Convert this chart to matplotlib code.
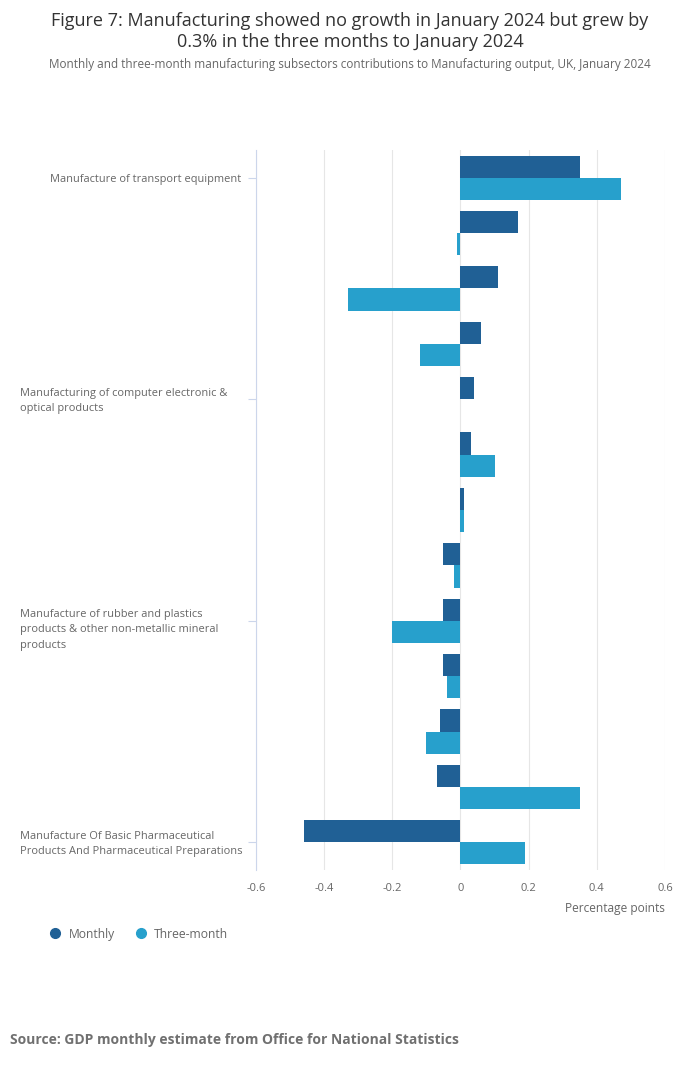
import numpy as np
import matplotlib.pyplot as plt
from matplotlib.lines import Line2D
from matplotlib.transforms import blended_transform_factory

plt.rcParams['font.family'] = ['Open Sans', 'DejaVu Sans']

# subsectors, top to bottom; only every 4th one is labelled in the source chart
categories = [
    'Manufacture of transport equipment', '', '', '',
    'Manufacturing of computer electronic &\noptical products', '', '', '',
    'Manufacture of rubber and plastics\nproducts & other non-metallic mineral\nproducts', '', '', '',
    'Manufacture Of Basic Pharmaceutical\nProducts And Pharmaceutical Preparations',
]
monthly = [0.35, 0.17, 0.11, 0.06, 0.04, 0.03, 0.01, -0.05, -0.05, -0.05, -0.06, -0.07, -0.46]
three_month = [0.47, -0.01, -0.33, -0.12, 0.0, 0.10, 0.01, -0.02, -0.20, -0.04, -0.10, 0.35, 0.19]
x_ticks = [-0.6, -0.4, -0.2, 0, 0.2, 0.4, 0.6]
x_tick_labels = ['-0.6', '-0.4', '-0.2', '0', '0.2', '0.4', '0.6']

dark_blue = '#206095'
light_blue = '#27a0cc'
grey_text = '#666666'

fig = plt.figure(figsize=(7, 10.67), dpi=100)
ax = fig.add_axes([0.3657, 0.1846, 0.5843, 0.6748])

y = np.arange(len(categories))
bar_h = 0.4
ax.barh(y - bar_h / 2, monthly, height=bar_h, color=dark_blue, label='Monthly', zorder=3)
ax.barh(y + bar_h / 2, three_month, height=bar_h, color=light_blue, label='Three-month', zorder=3)

ax.set_ylim(len(categories) - 0.5, -0.5)
ax.set_xlim(-0.6, 0.6)

# ticks only where a label is shown; labels drawn by hand so wrapped ones sit flush left
labelled = [i for i, c in enumerate(categories) if c]
ax.set_yticks(labelled)
ax.set_yticklabels([''] * len(labelled))
ax.tick_params(axis='y', length=6, width=0.8, color='#ccd6eb')
trans = blended_transform_factory(fig.transFigure, ax.transData)
for i in labelled:
    txt = categories[i]
    n_lines = txt.count('\n') + 1
    # three-line labels sit about half a line lower than their tick
    dy = 0.035 + (0.13 if n_lines > 2 else 0)
    if n_lines > 1:
        ax.text(20 / 700, i + dy, txt, transform=trans, ha='left', va='center',
                fontsize=7.9, color=grey_text, linespacing=1.55)
    else:
        ax.text(241 / 700, i + dy, txt, transform=trans, ha='right', va='center',
                fontsize=7.9, color=grey_text)

ax.set_xticks(x_ticks)
ax.set_xticklabels(x_tick_labels, fontsize=8, color=grey_text)
ax.tick_params(axis='x', length=0, pad=9)
ax.grid(axis='x', color='#e6e6e6', linewidth=0.8, zorder=0)

for side in ['top', 'right', 'bottom']:
    ax.spines[side].set_visible(False)
ax.spines['left'].set_color('#ccd6eb')
ax.spines['left'].set_linewidth(0.8)

ax.set_xlabel('Percentage points', fontsize=8.6, color=grey_text, loc='right', labelpad=6)

fig.text(0.5, 0.989, 'Figure 7: Manufacturing showed no growth in January 2024 but grew by\n'
         '0.3% in the three months to January 2024',
         ha='center', va='top', fontsize=13, color='#333333', linespacing=1.2)
fig.text(0.5, 0.94, 'Monthly and three-month manufacturing subsectors contributions to '
         'Manufacturing output, UK, January 2024',
         ha='center', va='center', fontsize=8.5, color=grey_text)

handles = [
    Line2D([], [], marker='o', linestyle='', markersize=7, color=dark_blue),
    Line2D([], [], marker='o', linestyle='', markersize=7, color=light_blue),
]
fig.legend(handles, ['Monthly', 'Three-month'], loc='center left',
           bbox_to_anchor=(0.055, 0.1245), ncol=2, frameon=False, fontsize=8.7,
           labelcolor=grey_text, handletextpad=0.6, columnspacing=1.65, handlelength=1.0)

fig.text(0.0143, 0.0255, 'Source: GDP monthly estimate from Office for National Statistics',
         ha='left', va='center', fontsize=10, fontweight='bold', color='#707070')

fig.savefig('out.png', dpi=100)
